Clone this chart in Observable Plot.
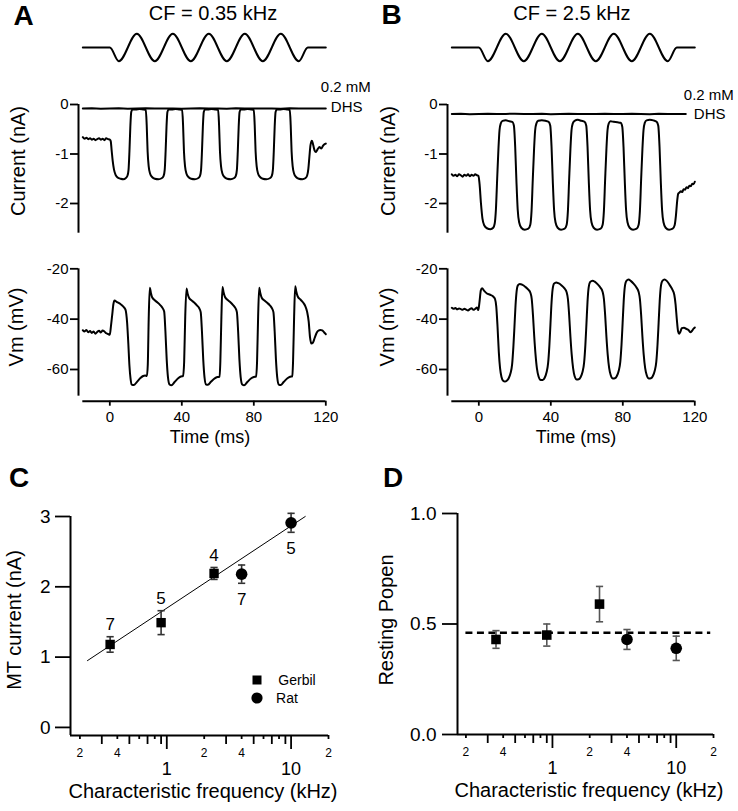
<!DOCTYPE html>
<html><head><meta charset="utf-8">
<script src="https://cdn.jsdelivr.net/npm/d3@7"></script>
<script src="https://cdn.jsdelivr.net/npm/@observablehq/plot@0.6"></script>
<style>
body{margin:0;background:#fff;}
#fig{position:relative;width:738px;height:811px;overflow:hidden;background:#fff;color:#000;}
</style></head><body><div id="fig"></div>
<script>
// ---------------- DATA ----------------
// Stimulus schematic (relative displacement), shared by A and B
const stimT = [-15, 0, 5, 15, 25, 35, 45, 55, 65, 75, 85, 95, 105, 110, 120];
const stimV = [0, 0, -1, 1, -1, 1, -1, 1, -1, 1, -1, 1, -1, 0, 0];

// Panel A: current (nA) vs time (ms), CF = 0.35 kHz
const currentA = [
 [-15,-0.66],[-14,-0.69],[-13,-0.67],[-12,-0.70],[-11,-0.68],[-10,-0.71],[-9,-0.69],[-8,-0.72],[-7,-0.70],[-6,-0.68],[-5,-0.71],[-4,-0.69],[-3,-0.72],[-2,-0.68],[-1,-0.70],[0,-0.71],
 [0.5,-0.74],[1.0,-0.92],[1.6,-1.14],[2.3,-1.31],[3.2,-1.42],[4.5,-1.48],[6,-1.5],[7.5,-1.51],[8.8,-1.49],[9.8,-1.44],[10.4,-1.32],[10.9,-0.95],[11.4,-0.45],[11.9,-0.15],[12.6,-0.1],
 [14.5,-0.1],[16.5,-0.09],[18.5,-0.1],[20,-0.11],
 [20.5,-0.42],[21.0,-0.95],[21.6,-1.25],[22.4,-1.4],[23.6,-1.47],[25,-1.5],[27,-1.51],[28.8,-1.49],[29.9,-1.44],[30.5,-1.32],[31,-0.95],[31.5,-0.45],[32,-0.15],[32.7,-0.1],
 [34.5,-0.1],[36.5,-0.09],[38.5,-0.1],[40.2,-0.11],
 [40.7,-0.42],[41.2,-0.95],[41.8,-1.25],[42.6,-1.4],[43.8,-1.47],[45.2,-1.5],[47.2,-1.51],[49,-1.49],[50.1,-1.44],[50.7,-1.32],[51.2,-0.95],[51.7,-0.45],[52.2,-0.15],[52.9,-0.1],
 [54.5,-0.1],[56.5,-0.09],[58.5,-0.1],[60.2,-0.11],
 [60.7,-0.42],[61.2,-0.95],[61.8,-1.25],[62.6,-1.4],[63.8,-1.47],[65.2,-1.5],[67.2,-1.51],[68.9,-1.49],[70,-1.44],[70.6,-1.32],[71.1,-0.95],[71.6,-0.45],[72.1,-0.15],[72.8,-0.1],
 [74.5,-0.1],[76.5,-0.09],[78.5,-0.1],[80,-0.11],
 [80.5,-0.42],[81,-0.95],[81.6,-1.25],[82.4,-1.4],[83.6,-1.47],[85,-1.5],[87,-1.51],[88.9,-1.49],[90,-1.44],[90.6,-1.32],[91.1,-0.95],[91.6,-0.45],[92.1,-0.15],[92.8,-0.1],
 [94.5,-0.1],[96.5,-0.09],[98.5,-0.1],[100,-0.11],
 [100.5,-0.42],[101,-0.95],[101.6,-1.25],[102.4,-1.4],[103.6,-1.47],[105,-1.5],[107,-1.51],[108.6,-1.49],[109.6,-1.44],[110.3,-1.3],[110.9,-1.05],[111.5,-0.82],[112.3,-0.73],[113,-0.82],[113.8,-0.93],[114.5,-0.96],[115.5,-0.9],[116.5,-0.86],[117.5,-0.89],[118.5,-0.83],[119.4,-0.8],[120,-0.79]
];
const dhsA = [
 [-15,-0.08],[-10,-0.075],[-5,-0.085],[0,-0.08],[5,-0.078],[10,-0.084],[15,-0.08],[20,-0.076],[25,-0.083],[30,-0.08],[35,-0.079],[40,-0.085],[45,-0.08],[50,-0.077],
 [55,-0.082],[60,-0.08],[65,-0.084],[70,-0.078],[75,-0.08],[80,-0.083],[85,-0.079],[90,-0.08],[95,-0.085],[100,-0.078],[105,-0.08],[110,-0.082],[115,-0.079],[120,-0.08]
];
// Panel A: membrane potential (mV)
const vmA = [
 [-15,-44.4],[-14,-44.9],[-13,-44.3],[-12,-45.2],[-11,-44.7],[-10,-45.5],[-9,-44.9],[-8,-45.8],[-7,-45.1],[-6,-44.6],[-5,-45.3],[-4,-44.5],[-3,-44.9],[-2,-45.6],[-1,-45.9],[0,-46.2],
 [0.6,-43],[1.3,-38.5],[2,-34],[2.6,-32.6],[4,-33.2],[5.9,-34],[7.5,-35],[8.7,-36.2],[9.6,-41.3],[10.3,-50],[10.9,-58.5],[11.5,-63.5],[12.2,-66],[13.3,-66.2],[15,-65],[17,-63.4],[18.5,-62.6],[19.6,-62.4],[20.6,-62.6],
 [21.1,-58],[21.6,-40],[22.2,-27.5],[22.8,-29.5],[23.5,-31.3],[25,-32.5],[26.5,-33.4],[28,-34.4],[29.2,-35.5],[30.2,-37],
 [30.9,-45],[31.6,-56],[32.3,-63],[33.2,-66],[34.2,-66.3],[36,-65],[38,-63.5],[39.5,-62.8],[40.7,-62.6],
 [41.3,-57],[41.9,-39],[42.6,-27.8],[43.2,-29.8],[44,-31.5],[45.5,-32.6],[47,-33.5],[48.5,-34.6],[49.6,-35.6],[50.5,-37.2],
 [51.2,-45],[51.9,-56],[52.6,-63],[53.5,-66],[54.5,-66.1],[56.3,-64.8],[58.3,-63.5],[59.8,-63],[61,-62.9],
 [61.4,-57],[62,-39],[62.6,-27.2],[63.2,-29.3],[64,-31.2],[65.5,-32.4],[67,-33.3],[68.5,-34.4],[69.7,-35.5],[70.6,-37.2],
 [71.3,-45],[72,-56],[72.7,-63],[73.6,-66],[74.6,-66.3],[76.4,-65],[78.4,-63.6],[80,-63],[81.3,-62.8],
 [81.8,-57],[82.4,-39],[83,-27.5],[83.6,-29.6],[84.4,-31.5],[85.9,-32.6],[87.4,-33.5],[88.9,-34.5],[90,-35.6],[90.9,-37.2],
 [91.6,-45],[92.3,-56],[93,-63],[93.9,-66],[94.9,-66.2],[96.7,-64.9],[98.7,-63.5],[100.2,-62.9],[101.4,-62.7],
 [101.8,-57],[102.4,-39],[103,-26.9],[103.6,-29],[104.4,-31],[105.9,-32.2],[107.4,-33.4],[108.6,-34.8],[109.6,-37],
 [110.5,-41],[111.2,-47],[112,-49.7],[112.8,-49.4],[113.8,-47.5],[114.8,-45.6],[115.8,-44.6],[117,-44.3],[118,-44.5],[119,-45.2],[120,-46]
];

// Panel B: current (nA), CF = 2.5 kHz
const currentB = [
 [-15,-1.41],[-14,-1.44],[-13,-1.42],[-12,-1.45],[-11,-1.41],[-10,-1.43],[-9,-1.46],[-8,-1.42],[-7,-1.44],[-6,-1.41],[-5,-1.45],[-4,-1.42],[-3,-1.44],[-2,-1.41],[-1,-1.43],[-0.2,-1.44],
 [0.4,-1.6],[1.2,-2.0],[2.0,-2.3],[3,-2.44],[4.5,-2.5],[6.5,-2.52],[8,-2.49],[8.8,-2.41],[9.5,-2.12],[10.2,-1.5],[10.9,-0.9],[11.5,-0.52],[12.2,-0.38],[13.2,-0.33],
 [15,-0.32],[17,-0.34],[18.6,-0.35],[19.5,-0.43],[20.2,-0.85],
 [20.9,-1.55],[21.6,-2.12],[22.4,-2.38],[23.6,-2.49],[25.5,-2.53],[27.5,-2.51],[28.6,-2.43],[29.3,-2.15],[30,-1.5],[30.7,-0.9],[31.3,-0.52],[32,-0.38],[33,-0.33],
 [35,-0.32],[37,-0.33],[38.8,-0.35],[39.7,-0.43],[40.4,-0.85],
 [41.1,-1.55],[41.8,-2.12],[42.6,-2.38],[43.8,-2.49],[45.7,-2.53],[47.7,-2.51],[48.8,-2.43],[49.5,-2.15],[50.2,-1.5],[50.9,-0.9],[51.5,-0.52],[52.2,-0.38],[53.2,-0.33],
 [55,-0.31],[57,-0.33],[58.8,-0.35],[59.7,-0.43],[60.4,-0.85],
 [61.1,-1.55],[61.8,-2.12],[62.6,-2.38],[63.8,-2.49],[65.7,-2.53],[67.7,-2.51],[68.8,-2.43],[69.5,-2.15],[70.2,-1.5],[70.9,-0.9],[71.5,-0.52],[72.2,-0.38],[73.2,-0.34],
 [75,-0.35],[77,-0.36],[78.8,-0.37],[79.7,-0.45],[80.4,-0.86],
 [81.1,-1.55],[81.8,-2.12],[82.6,-2.38],[83.8,-2.49],[85.7,-2.53],[87.7,-2.51],[88.8,-2.43],[89.5,-2.15],[90.2,-1.5],[90.9,-0.9],[91.5,-0.52],[92.2,-0.37],[93.2,-0.32],
 [95,-0.31],[97,-0.32],[98.8,-0.35],[99.7,-0.43],[100.4,-0.85],
 [101.1,-1.55],[101.8,-2.12],[102.6,-2.38],[103.8,-2.49],[105.7,-2.53],[107.7,-2.51],[108.8,-2.44],[109.5,-2.25],[110.2,-1.95],[110.8,-1.8],[111.5,-1.78],[112.3,-1.75],[113,-1.77],[113.8,-1.71],[114.6,-1.72],[115.4,-1.67],[116.2,-1.69],[117,-1.64],[117.8,-1.65],[118.6,-1.6],[119.3,-1.61],[120,-1.56]
];
const dhsB = [
 [-15,-0.19],[-10,-0.185],[-5,-0.195],[0,-0.19],[5,-0.188],[10,-0.194],[15,-0.19],[20,-0.186],[25,-0.193],[30,-0.19],[35,-0.189],[40,-0.195],[45,-0.19],[50,-0.187],
 [55,-0.192],[60,-0.19],[65,-0.194],[70,-0.188],[75,-0.19],[80,-0.193],[85,-0.189],[90,-0.19],[95,-0.195],[100,-0.188],[105,-0.19],[110,-0.192],[115,-0.19]
];
// Panel B: membrane potential (mV)
const vmB = [
 [-15,-35.5],[-14,-35.9],[-13,-35.6],[-12,-36.1],[-11,-35.8],[-10,-36.0],[-9,-36.3],[-8,-35.9],[-7,-36.2],[-6,-36.6],[-5,-36.0],[-4,-35.7],[-3,-36.3],[-2,-35.9],[-1,-35.4],[-0.3,-36.4],
 [0.4,-33],[1.1,-28.6],[1.8,-27.7],[3,-28.8],[4.5,-29.8],[6.3,-30.3],[8,-31],[9,-32],[9.7,-35],[10.4,-43],[11.1,-53],[11.8,-59.5],[12.6,-63],[13.5,-64.5],[14.5,-64.8],[15.5,-64.5],[16.6,-63.5],[17.6,-61.5],[18.5,-58],[19.2,-51],[19.8,-43],[20.4,-34.5],[21,-29],[21.7,-26.6],[22.8,-26],[24,-26.3],[25.9,-27.2],[27.5,-28.3],[28.7,-29.6],
 [29.4,-32],[30.1,-38.5],[30.8,-47],[31.5,-54],[32.3,-59.7],[33.2,-62.8],[34.4,-64.2],[35.5,-64.2],[36.6,-63.3],[37.6,-61.2],[38.5,-57.5],[39.2,-50.5],[39.8,-42],[40.4,-33.5],[41,-28.2],[41.8,-25.9],[43,-25.4],[44.2,-25.7],[46,-26.6],[47.6,-27.8],[48.8,-29.3],
 [49.5,-32],[50.2,-38.5],[50.9,-47],[51.6,-54],[52.4,-59.6],[53.2,-62.6],[54.4,-64],[55.5,-63.9],[56.6,-63],[57.6,-61],[58.5,-57.3],[59.2,-50.3],[59.8,-41.8],[60.4,-33],[61,-27.6],[61.9,-25.2],[63.2,-24.7],[64.4,-25.1],[66.1,-26.2],[67.6,-27.5],[68.8,-29.2],
 [69.5,-32],[70.2,-38.5],[70.9,-47],[71.6,-54],[72.4,-59.4],[73.3,-62.3],[74.5,-63.6],[75.6,-63.5],[76.7,-62.6],[77.7,-60.6],[78.6,-57],[79.3,-50],[79.9,-41.5],[80.5,-32.8],[81.1,-27.3],[82,-24.8],[83.2,-24.3],[84.4,-24.8],[86.1,-26],[87.6,-27.4],[88.8,-29.2],
 [89.5,-32],[90.2,-38.5],[90.9,-47],[91.6,-54],[92.4,-59.4],[93.3,-62.3],[94.5,-63.6],[95.6,-63.5],[96.7,-62.6],[97.7,-60.6],[98.6,-57],[99.3,-50],[99.9,-41.5],[100.5,-32.8],[101.1,-27.3],[102,-24.8],[103.2,-24.3],[104.4,-24.8],[106,-26.4],[107.5,-28.2],[108.6,-30.3],
 [109.3,-34],[110,-40],[110.7,-44.8],[111.3,-45.8],[112,-45],[112.8,-43.6],[114,-43.4],[115.3,-43.9],[116.5,-44.3],[117.5,-45.2],[118.5,-44.6],[119.3,-43.8],[120,-43.3]
];

const currentTicks = [0, -1, -2];
const vmTicks = [-20, -40, -60];
const timeTicks = [0, 40, 80, 120];
const dhsText = ["0.2 mM", "DHS"];

// Panels C & D: characteristic frequency (kHz)
const gerbilCF = [0.35, 0.9, 2.4];
const ratCF = [4, 10];
const gerbilMT = [1.18, 1.49, 2.19];
const gerbilMTerr = [0.11, 0.17, 0.085];
const ratMT = [2.18, 2.91];
const ratMTerr = [0.13, 0.135];
const nCells = [7, 5, 4, 7, 5];
const nSide = ["above", "above", "above", "below", "below"];
const fitCF = [0.23, 13];
const fitMT = [0.95, 3.0];
const gerbilPopen = [0.43, 0.45, 0.59];
const gerbilPopenErr = [0.04, 0.05, 0.08];
const ratPopen = [0.43, 0.39];
const ratPopenErr = [0.045, 0.055];
const meanPopen = 0.46;
const meanPopenCF = [0.2, 19];
const mtTicks = [0, 1, 2, 3];
const popenTicks = [0, 0.5, 1];
const cfMajor = [1, 10];
const cfMinorLabeled = [0.2, 0.4, 0.6, 0.8, 2, 4, 6, 8, 20];
const cfMinorPlain = [0.3, 0.5, 0.7, 0.9, 3, 5, 7, 9];

// ---------------- DRAWING ----------------
const fig = document.getElementById("fig");
const FONT = "'Liberation Sans', Arial, Helvetica, sans-serif";
const pts = arr => arr.map(([t, v]) => ({t, v}));

function put(el, left, top) {
  el.style.position = "absolute";
  el.style.left = left + "px";
  el.style.top = top + "px";
  fig.append(el);
}
function label(text, x, y, size, {weight = "normal", rotate = false} = {}) {
  const d = document.createElement("div");
  d.textContent = text;
  d.style.cssText = `position:absolute;left:${x}px;top:${y}px;font-size:${size}px;font-weight:${weight};line-height:1;white-space:nowrap;font-family:${FONT};color:#000;`;
  d.style.transform = "translate(-50%,-50%)" + (rotate ? " rotate(-90deg)" : "");
  fig.append(d);
}
function plotAt(left, top, opts) {
  const svg = Plot.plot({...opts, style: {fontFamily: FONT, overflow: "visible", background: "none"}});
  put(svg, left, top);
}

const T0 = -17.4, TDOM = [T0, 120];
const fmt = d => String(d);

function stimulusPlot(left) {
  plotAt(left, 25, {
    width: 369, height: 45, marginLeft: 78, marginRight: 43.7, marginTop: 8.3, marginBottom: 9.3,
    x: {domain: TDOM, axis: null}, y: {domain: [-1, 1], axis: null},
    marks: [Plot.line(stimT.map((t, i) => ({t, v: stimV[i]})), {x: "t", y: "v", curve: "monotone-x", strokeWidth: 2})]
  });
}
function currentPlot(left, trace, dhs, lab) {
  const end = dhs[dhs.length - 1];
  plotAt(left, 80, {
    width: 369, height: 160, marginLeft: 78, marginRight: 43.7, marginTop: 24, marginBottom: 7.3,
    x: {domain: TDOM, axis: null}, y: {domain: [-2.6, 0]},
    marks: [
      Plot.ruleX([T0], {y1: -2.6, y2: 0, strokeWidth: 2}),
      Plot.axisY({ticks: currentTicks, tickSize: 8, tickPadding: 2, fontSize: 15, tickFormat: fmt, strokeWidth: 1.8, label: null}),
      Plot.line(pts(dhs), {x: "t", y: "v", strokeWidth: 2}),
      Plot.line(pts(trace), {x: "t", y: "v", strokeWidth: 2, curve: "monotone-x"}),
      Plot.text([dhsText[0]], {x: () => end[0], y: () => end[1], text: d => d, textAnchor: "start", dx: lab.mmDx, dy: lab.mmDy, fontSize: 15}),
      Plot.text([dhsText[1]], {x: () => end[0], y: () => end[1], text: d => d, textAnchor: "start", dx: lab.dhsDx, dy: lab.dhsDy, fontSize: 15})
    ]
  });
}
function vmPlot(left, trace) {
  plotAt(left, 260, {
    width: 369, height: 185, marginLeft: 78, marginRight: 43.7, marginTop: 8.3, marginBottom: 44.3,
    x: {domain: TDOM}, y: {domain: [-72.6, -20]},
    marks: [
      Plot.ruleX([T0], {y1: -70.6, y2: -20, strokeWidth: 2}),
      Plot.ruleY([-72.6], {x1: -15, x2: 120, strokeWidth: 2}),
      Plot.axisY({ticks: vmTicks, tickSize: 8, tickPadding: 2, fontSize: 15, tickFormat: fmt, strokeWidth: 1.8, label: null}),
      Plot.axisX({ticks: timeTicks, tickSize: 5, tickPadding: 5, fontSize: 15, tickFormat: fmt, strokeWidth: 1.8, label: null}),
      Plot.line(pts(trace), {x: "t", y: "v", strokeWidth: 2, curve: "monotone-x"})
    ]
  });
}

stimulusPlot(0); stimulusPlot(369);
currentPlot(0, currentA, dhsA, {mmDx: -5, mmDy: -21, dhsDx: 5, dhsDy: -1});
currentPlot(369, currentB, dhsB, {mmDx: -2, mmDy: -19, dhsDx: 8, dhsDy: 0});
vmPlot(0, vmA); vmPlot(369, vmB);

// ---- C & D ----
const capLine = {draw(ctx, size) { const w = Math.sqrt(size / Math.PI); ctx.moveTo(-w, 0); ctx.lineTo(w, 0); }};
function errMarks(rows, color) {
  return [
    Plot.ruleX(rows, {x: "f", y1: d => d.v - d.e, y2: d => d.v + d.e, stroke: color, strokeWidth: 1.6}),
    Plot.dot(rows, {x: "f", y: d => d.v + d.e, symbol: capLine, r: 3.6, stroke: color, strokeWidth: 1.6, fill: "none"}),
    Plot.dot(rows, {x: "f", y: d => d.v - d.e, symbol: capLine, r: 3.6, stroke: color, strokeWidth: 1.6, fill: "none"})
  ];
}
const leadDigit = d => String(Math.round(d / Math.pow(10, Math.floor(Math.log10(d) + 1e-9))));
function logAxes() {
  return [
    Plot.axisX({ticks: cfMinorPlain, tickSize: 9, tickFormat: () => "", strokeWidth: 1.8, label: null}),
    Plot.axisX({ticks: cfMinorLabeled, tickSize: 4, tickPadding: 9, fontSize: 12, tickFormat: leadDigit, strokeWidth: 1.8, label: null}),
    Plot.axisX({ticks: cfMajor, tickSize: 14, tickPadding: 13, fontSize: 18, tickFormat: fmt, strokeWidth: 1.8, label: null})
  ];
}
const rowsOf = (f, v, e) => f.map((x, i) => ({f: x, v: v[i], e: e[i]}));

const gC = rowsOf(gerbilCF, gerbilMT, gerbilMTerr);
const rC = rowsOf(ratCF, ratMT, ratMTerr);
const allC = gC.concat(rC).map((d, i) => ({...d, n: nCells[i], side: nSide[i]}));
const xminC = 0.168, yminC = -0.115;
plotAt(0, 500, {
  width: 369, height: 311, marginLeft: 70, marginRight: 41, marginTop: 16, marginBottom: 76,
  x: {type: "log", domain: [xminC, 20], label: null}, y: {domain: [yminC, 3], label: null},
  marks: [
    Plot.ruleX([xminC], {y1: yminC, y2: 3, strokeWidth: 2}),
    Plot.ruleY([yminC], {x1: xminC, x2: 20, strokeWidth: 2}),
    Plot.axisY({ticks: mtTicks, tickSize: 15, tickPadding: 5, fontSize: 19, tickFormat: fmt, strokeWidth: 1.8, label: null}),
    ...logAxes(),
    Plot.line(fitCF.map((f, i) => ({f, v: fitMT[i]})), {x: "f", y: "v", strokeWidth: 1}),
    ...errMarks(gC.concat(rC), "#333"),
    Plot.dot(gC, {x: "f", y: "v", symbol: "square", r: 5.3, fill: "#000"}),
    Plot.dot(rC, {x: "f", y: "v", symbol: "circle", r: 5.8, fill: "#000"}),
    Plot.text(allC.filter(d => d.side === "above"), {x: "f", y: d => d.v + d.e, text: d => String(d.n), dy: -12, fontSize: 17}),
    Plot.text(allC.filter(d => d.side === "below"), {x: "f", y: d => d.v - d.e, text: d => String(d.n), dy: 16, fontSize: 17})
  ]
});

const gD = rowsOf(gerbilCF, gerbilPopen, gerbilPopenErr);
const rD = rowsOf(ratCF, ratPopen, ratPopenErr);
const xminD = 0.171;
plotAt(369, 500, {
  width: 369, height: 311, marginLeft: 88, marginRight: 25, marginTop: 13, marginBottom: 77,
  x: {type: "log", domain: [xminD, 20], label: null}, y: {domain: [0, 1], label: null},
  marks: [
    Plot.ruleX([xminD], {y1: 0, y2: 1, strokeWidth: 2}),
    Plot.ruleY([0], {x1: xminD, x2: 20, strokeWidth: 2}),
    Plot.axisY({ticks: popenTicks, tickSize: 15, tickPadding: 6, fontSize: 19, tickFormat: d => d.toFixed(1), strokeWidth: 1.8, label: null}),
    ...logAxes(),
    Plot.ruleY([meanPopen], {x1: meanPopenCF[0], x2: meanPopenCF[1], strokeWidth: 2.5, strokeDasharray: "7,4.5"}),
    ...errMarks(gD.concat(rD), "#555"),
    Plot.dot(gD, {x: "f", y: "v", symbol: "square", r: 5.4, fill: "#000"}),
    Plot.dot(rD, {x: "f", y: "v", symbol: "circle", r: 5.8, fill: "#000"})
  ]
});

// legend in C
const leg = document.createElementNS("http://www.w3.org/2000/svg", "svg");
leg.setAttribute("width", 20); leg.setAttribute("height", 40);
leg.innerHTML = '<rect x="5.5" y="5.5" width="9" height="9" fill="#000"/><circle cx="10" cy="28" r="5.6" fill="#000"/>';
put(leg, 247, 670);
label("Gerbil", 297, 680, 14); label("Rat", 287, 698, 14);

// text labels
label("A", 23.5, 16, 28, {weight: "bold"});
label("B", 391.5, 15, 28, {weight: "bold"});
label("C", 19, 477.5, 28, {weight: "bold"});
label("D", 393, 478, 28, {weight: "bold"});
label("CF = 0.35 kHz", 213, 13, 20);
label("CF = 2.5 kHz", 572, 13, 20);
label("Current (nA)", 18, 161, 20, {rotate: true});
label("Current (nA)", 388, 161, 20, {rotate: true});
label("Vm (mV)", 16, 327, 20, {rotate: true});
label("Vm (mV)", 387, 327, 20, {rotate: true});
label("Time (ms)", 210, 437, 18);
label("Time (ms)", 576, 437, 18);
label("MT current (nA)", 14, 620, 20, {rotate: true});
label("Resting Popen", 386, 620, 20, {rotate: true});
label("Characteristic frequency (kHz)", 203, 791, 20);
label("Characteristic frequency (kHz)", 589, 790, 20);
</script></body></html>
